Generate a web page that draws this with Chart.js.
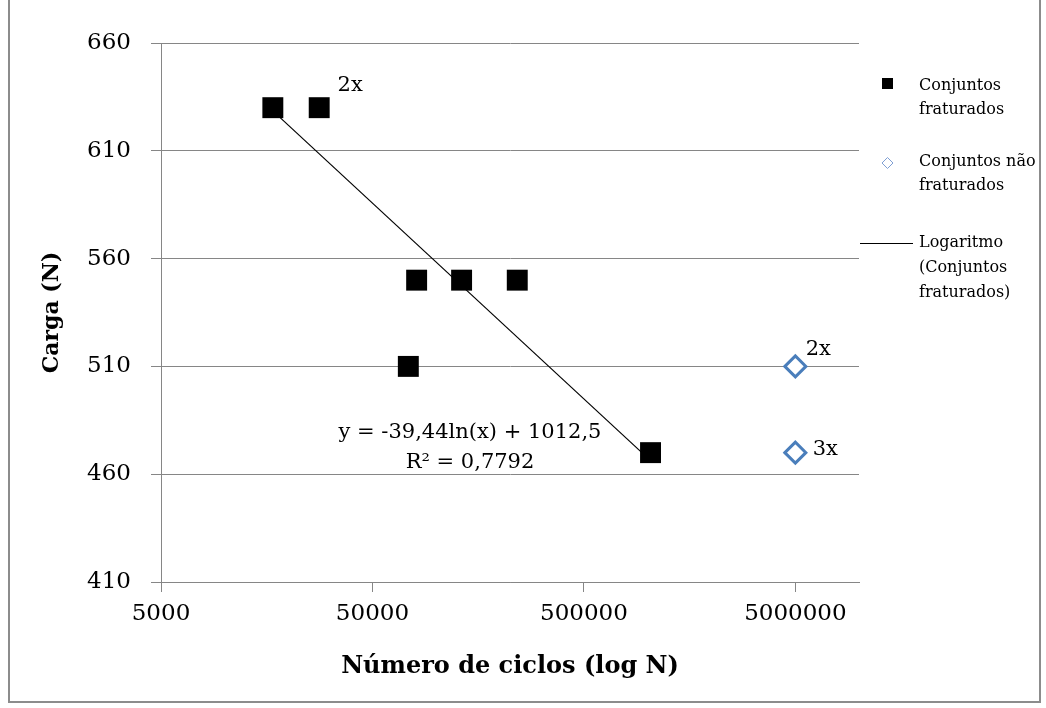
<!DOCTYPE html>
<html>
<head>
<meta charset="utf-8">
<script src="https://cdn.jsdelivr.net/npm/chart.js@4/dist/chart.umd.min.js"></script>
<style>
  html, body { margin: 0; padding: 0; background: #fff; }
  #wrap { position: relative; width: 1046px; height: 708px; }
</style>
</head>
<body>
<div id="wrap"><canvas id="cargaChart"></canvas></div>
<script>
// dados
var ciclosFrat = [16900, 28000, 80900, 132000, 242000, 73900, 1033000];
var cargaFrat = [630, 630, 550, 550, 550, 510, 470];
var ciclosNaoFrat = [5000000, 5000000];
var cargaNaoFrat = [510, 470];
var ciclosTend = [16900, 1033000];
var cargaTend = [628.5, 466.3];
var xTicks = [5000, 50000, 500000, 5000000];
var notaTexto = ['2x', '2x', '3x'];
var notaCiclos = [28000, 5000000, 5000000];
var notaCarga = [630, 510, 470];
var equacao = ['y = -39,44ln(x) + 1012,5', 'R² = 0,7792'];

var gray = '#868686';
var serif = '"DejaVu Serif", serif';

function toPoints(xs, ys) {
    return xs.map(function (v, i) { return { x: v, y: ys[i] }; });
}

const framePlugin = {
    id: 'frame',
    beforeDraw(chart) {
        const ctx = chart.ctx;
        ctx.save();
        ctx.fillStyle = '#fff';
        ctx.fillRect(0, 0, chart.width, chart.height);
        ctx.strokeStyle = '#8c8c8c';
        ctx.lineWidth = 2;
        ctx.beginPath();
        ctx.moveTo(9, 0);
        ctx.lineTo(9, 702);
        ctx.lineTo(1040, 702);
        ctx.lineTo(1040, 0);
        ctx.stroke();
        ctx.restore();
    }
};

// rotulos "2x", "3x", equacao e legenda
const notesPlugin = {
    id: 'notes',
    afterDatasetsDraw(chart) {
        const ctx = chart.ctx;
        const x = chart.scales.x, y = chart.scales.y;
        const offs = [[31, -22], [23, -17], [30, -3]];
        ctx.save();
        ctx.fillStyle = '#000';
        ctx.font = '21px ' + serif;
        ctx.textAlign = 'center';
        ctx.textBaseline = 'middle';
        notaTexto.forEach(function (t, i) {
            ctx.fillText(t, x.getPixelForValue(notaCiclos[i]) + offs[i][0], y.getPixelForValue(notaCarga[i]) + offs[i][1]);
        });
        ctx.fillText(equacao[0], 470, 433);
        ctx.fillText(equacao[1], 470, 463);

        // legenda
        const lx = 919;
        ctx.font = '16px ' + serif;
        ctx.textAlign = 'left';
        ctx.fillRect(882, 78, 11, 11);
        ctx.fillText('Conjuntos', lx, 86);
        ctx.fillText('fraturados', lx, 110);

        ctx.strokeStyle = '#7f9fd3';
        ctx.lineWidth = 1;
        ctx.beginPath();
        ctx.moveTo(887.5, 157.5);
        ctx.lineTo(893, 163);
        ctx.lineTo(887.5, 168.5);
        ctx.lineTo(882, 163);
        ctx.closePath();
        ctx.stroke();
        ctx.fillText('Conjuntos não', lx, 162);
        ctx.fillText('fraturados', lx, 186);

        ctx.strokeStyle = '#000';
        ctx.beginPath();
        ctx.moveTo(860, 243.5);
        ctx.lineTo(913, 243.5);
        ctx.stroke();
        ctx.fillText('Logaritmo', lx, 243);
        ctx.fillText('(Conjuntos', lx, 268);
        ctx.fillText('fraturados)', lx, 293);
        ctx.restore();
    }
};

var ctx = document.getElementById('cargaChart').getContext('2d');

var cargaChart = new Chart(ctx, {
    type: 'scatter',
    data: {
        datasets: [{
            label: 'Conjuntos fraturados',
            data: toPoints(ciclosFrat, cargaFrat),
            pointStyle: 'rect',
            pointRadius: 14.8,
            backgroundColor: '#000',
            borderColor: '#000',
            borderWidth: 0,
            order: 0
        }, {
            label: 'Conjuntos não fraturados',
            data: toPoints(ciclosNaoFrat, cargaNaoFrat),
            pointStyle: 'rectRot',
            pointRadius: 10.5,
            backgroundColor: '#fff',
            borderColor: '#4a7ebb',
            borderWidth: 3,
            order: 0
        }, {
            label: 'Logaritmo (Conjuntos fraturados)',
            data: toPoints(ciclosTend, cargaTend),
            showLine: true,
            pointRadius: 0,
            borderColor: '#000',
            borderWidth: 1.2,
            order: 1
        }]
    },
    options: {
        responsive: true,
        maintainAspectRatio: false,
        animation: false,
        layout: {
            padding: { left: 0, top: 43, right: 187, bottom: 0 }
        },
        plugins: {
            legend: { display: false },
            tooltip: { enabled: false }
        },
        scales: {
            x: {
                type: 'logarithmic',
                min: 5000,
                max: 10000000,
                afterBuildTicks: function (scale) {
                    scale.ticks = xTicks.map(function (v) { return { value: v }; });
                },
                afterFit: function (scale) { scale.height = 126; },
                ticks: {
                    color: '#000',
                    font: { family: serif, size: 23 },
                    padding: 8,
                    maxRotation: 0,
                    autoSkip: false,
                    callback: function (v) { return String(v); }
                },
                grid: { drawOnChartArea: false, color: gray, tickLength: 10 },
                border: { color: gray },
                title: {
                    display: true,
                    text: 'Número de ciclos (log N)',
                    color: '#000',
                    font: { family: serif, size: 24, weight: 'bold' },
                    padding: { top: 0, bottom: 27 }
                }
            },
            y: {
                min: 410,
                max: 660,
                afterFit: function (scale) { scale.width = 161; },
                ticks: {
                    stepSize: 50,
                    color: '#000',
                    font: { family: serif, size: 23 },
                    padding: 20
                },
                grid: { color: gray, tickLength: 10 },
                border: { color: gray },
                title: {
                    display: true,
                    text: 'Carga (N)',
                    color: '#000',
                    font: { family: serif, size: 22, weight: 'bold' },
                    padding: { top: 39, bottom: 0 }
                }
            }
        }
    },
    plugins: [framePlugin, notesPlugin]
});
</script>
</body>
</html>
